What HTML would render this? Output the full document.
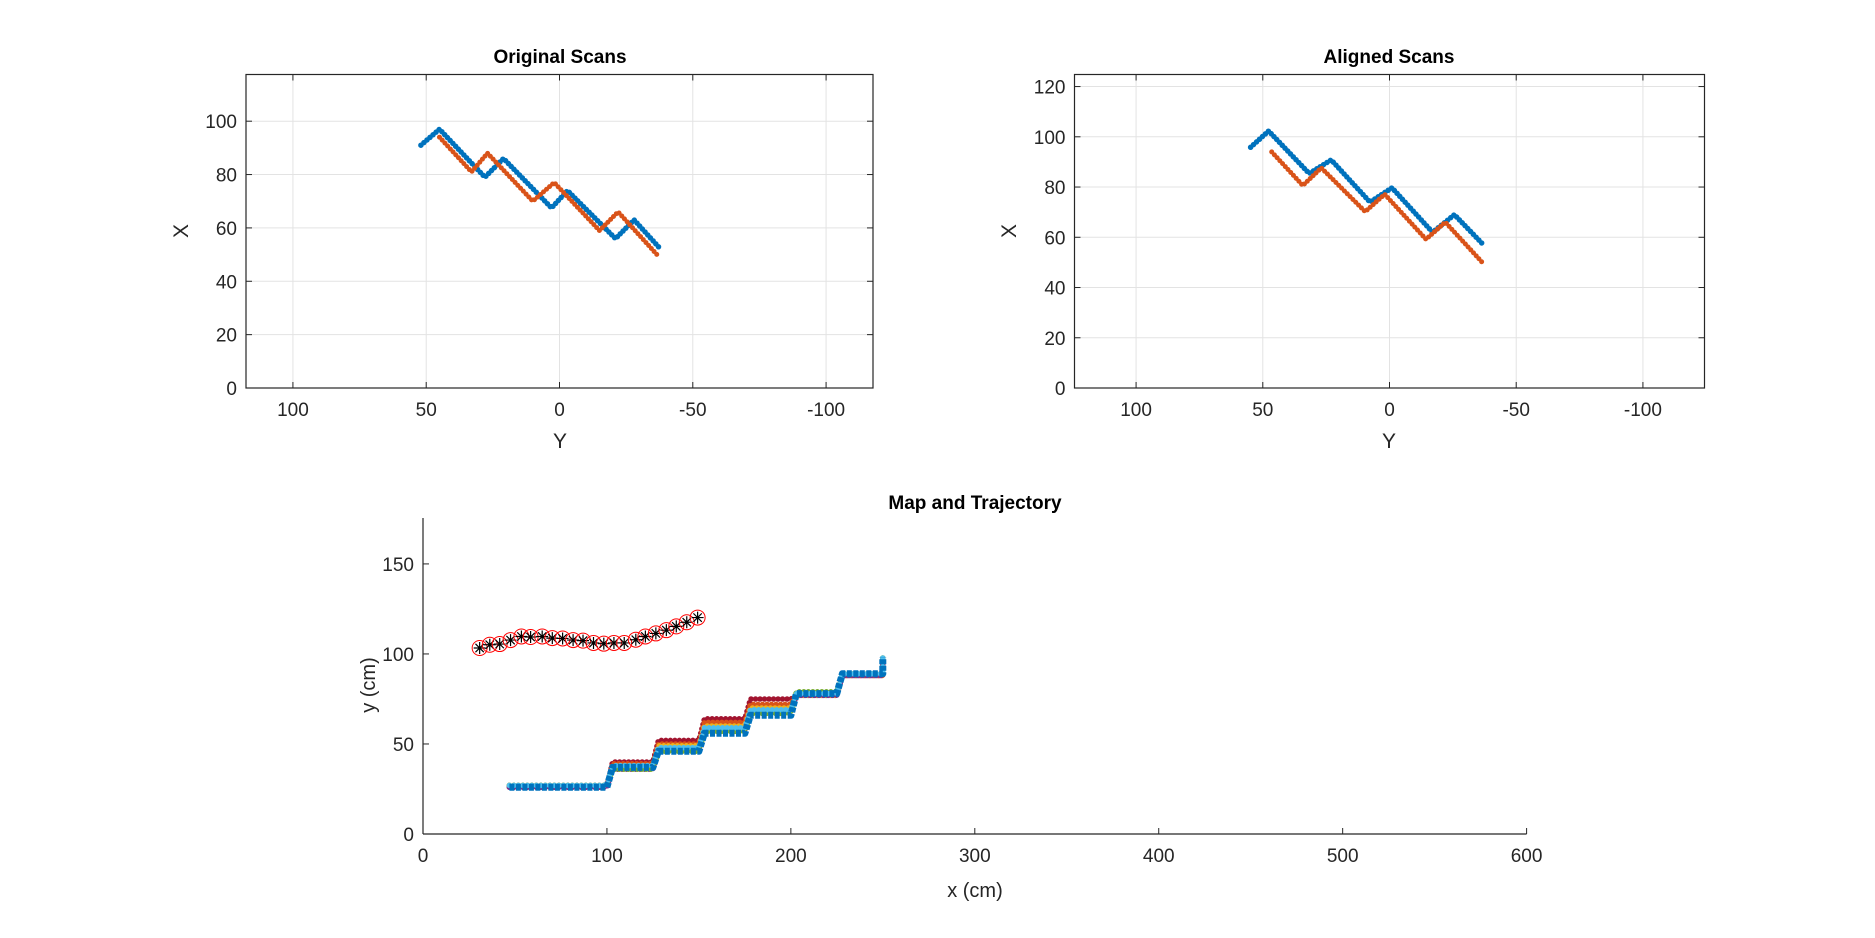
<!DOCTYPE html>
<html><head><meta charset="utf-8">
<style>
html,body{margin:0;padding:0;background:#fff;}
svg{display:block;font-family:"Liberation Sans",Arial,sans-serif;}
</style></head>
<body>
<svg id="chart" width="1875" height="938" viewBox="0 0 1875 938" xmlns="http://www.w3.org/2000/svg">
<rect width="1875" height="938" fill="#fff"/>
</svg>
<script>
// ---------- Data ----------
const scanTicksX = [100, 50, 0, -50, -100];
const scanTickLabelsX = ["100", "50", "0", "-50", "-100"];
const origTicksY = [0, 20, 40, 60, 80, 100];
const alignTicksY = [0, 20, 40, 60, 80, 100, 120];

// Original scans (Y, X) polyline vertices
const origBlueY = [52, 45, 28, 21, 3, -3, -21, -28, -38];
const origBlueX = [91, 97, 79, 86, 67.5, 74, 56, 63, 52];
const origRedY = [45, 33, 27, 10, 2, -15, -22, -37];
const origRedX = [94, 81, 88, 70, 77, 59, 66, 49.5];

// Aligned scans
const alignBlueY = [54.8, 47.7, 31.7, 23, 7.7, -1, -17, -25.6, -36.5];
const alignBlueX = [95.8, 102.3, 85.4, 90.8, 74, 79.7, 62, 69, 57.6];
const alignRedY = [46.5, 34.2, 26.9, 9.6, 1.9, -14.4, -22, -36.9];
const alignRedX = [94, 80.6, 87.6, 70.2, 77.1, 59.2, 66, 49.7];

// Map
const mapTicksX = [0, 100, 200, 300, 400, 500, 600];
const mapTicksY = [0, 50, 100, 150];
const trajX = [30.8,36.3,41.7,47.6,53.5,58.5,64.8,70.3,75.9,81.6,87.0,92.7,98.3,103.8,109.4,115.7,120.9,126.6,132.3,137.7,143.4,149.3];
const trajY = [103.3,105.1,105.5,107.7,109.7,109.4,109.7,108.8,108.6,107.7,107.4,106.1,105.7,106.1,106.1,107.9,109.7,111.4,113.2,115.3,117.6,120.2];
const stepEdges = [47, 100, 125, 150, 175, 200, 225, 250];
const stepDarkRed = [26, 40, 52, 64, 75, 77, 88];
const stepOrange = [27, 39, 50, 62, 72, 78, 88];
const stepYellow = [27, 38, 49, 60, 70, 77, 89];
const stepPurple = [26, 36, 47, 58, 68, 77, 88];
const stepGreen = [27, 36, 46, 57, 67, 79, 89];
const stepLightBlue = [27, 38, 48, 59, 69, 78, 89];
const stepBlue = [26, 37, 46, 56, 66, 78, 89];
const stepEndTop = 98;

// ---------- Helpers ----------
const svg = document.getElementById('chart');
const NS = 'http://www.w3.org/2000/svg';
function mk(tag, attrs, parent){
  const e = document.createElementNS(NS, tag);
  for (const k in attrs) e.setAttribute(k, attrs[k]);
  (parent||svg).appendChild(e);
  return e;
}
function lin(d0,d1,r0,r1){ return v => r0 + (v-d0)/(d1-d0)*(r1-r0); }

function axesFrame(g, L, T, R, B, xs, ys, xt, xtl, yt, grid, box){
  if (grid){
    xt.forEach(v=>{ const l=mk('line',{x1:xs(v),x2:xs(v),y1:T,y2:B,stroke:'#e3e3e3','stroke-width':1},g);
        });
    yt.forEach(v=>{ const l=mk('line',{x1:L,x2:R,y1:ys(v),y2:ys(v),stroke:'#e3e3e3','stroke-width':1},g);
        });
  }
  xt.forEach((v,i)=>{
    const x = xs(v);
    const t1 = mk('line',{x1:x,x2:x,y1:B,y2:B-6,stroke:'#262626','stroke-width':1},g);
     
    if (box){ mk('line',{x1:x,x2:x,y1:T,y2:T+6,stroke:'#262626','stroke-width':1},g); }
    const t = mk('text',{x:x,y:B+28,'text-anchor':'middle','font-size':19,fill:'#262626'},g);
    t.textContent = xtl ? xtl[i] : String(v);
     
  });
  yt.forEach(v=>{
    const y = ys(v);
    const t1 = mk('line',{x1:L,x2:L+6,y1:y,y2:y,stroke:'#262626','stroke-width':1},g);
     
    if (box){ mk('line',{x1:R,x2:R-6,y1:y,y2:y,stroke:'#262626','stroke-width':1},g); }
    const t = mk('text',{x:L-9,y:y+7,'text-anchor':'end','font-size':19,fill:'#262626'},g);
    t.textContent = String(v);
     
  });
  if (box){
    const r = mk('rect',{x:L,y:T,width:R-L,height:B-T,fill:'none',stroke:'#262626','stroke-width':1.2},g);
     
  } else {
    mk('line',{x1:L,x2:R,y1:B,y2:B,stroke:'#262626','stroke-width':1.2},g);
    mk('line',{x1:L,x2:L,y1:T,y2:B,stroke:'#262626','stroke-width':1.2},g);
  }
}
function dotted(g, xs, ys, X, Y, color, w, gap){
  const d = X.map((v,i)=>(i?'L':'M')+xs(v).toFixed(1)+' '+ys(Y[i]).toFixed(1)).join(' ');
  return mk('path',{d:d,fill:'none',stroke:color,'stroke-width':w,'stroke-linecap':'round','stroke-linejoin':'round','stroke-dasharray':'0 '+gap},g);
}
function label(g, txt, x, y, size, bold, name, rot){
  const t = mk('text',{x:x,y:y,'text-anchor':'middle','font-size':size,fill:bold?'#000':'#262626','font-weight':bold?'bold':'normal'},g);
  if (rot) t.setAttribute('transform','rotate(-90 '+x+' '+y+')');
  t.textContent = txt;
  
  
  return t;
}

// ---------- Plot 1: Original Scans ----------
(function(){
  const g = mk('g',{});
  
  
  const L=246,R=873,T=74.5,B=388;
  const xs = lin(117.6,-117.6,L,R), ys = lin(0,117.5,B,T);
  axesFrame(g,L,T,R,B,xs,ys,scanTicksX,scanTickLabelsX,origTicksY,true,true);
  const b = dotted(g,xs,ys,origBlueY,origBlueX,'#0072BD',5.5,4);
   
  const r = dotted(g,xs,ys,origRedY,origRedX,'#D95319',5,4);
   
  label(g,'Original Scans',560,63,19,true,'original-scans-title');
  label(g,'Y',560,448,21,false,'x-axis-title');
  label(g,'X',188,231,21,false,'y-axis-title',true);
})();

// ---------- Plot 2: Aligned Scans ----------
(function(){
  const g = mk('g',{});
  
  
  const L=1074.5,R=1704.5,T=74.5,B=388;
  const xs = lin(124.3,-124.3,L,R), ys = lin(0,124.8,B,T);
  axesFrame(g,L,T,R,B,xs,ys,scanTicksX,scanTickLabelsX,alignTicksY,true,true);
  const b = dotted(g,xs,ys,alignBlueY,alignBlueX,'#0072BD',5.5,4);
   
  const r = dotted(g,xs,ys,alignRedY,alignRedX,'#D95319',5,4);
   
  label(g,'Aligned Scans',1389,63,19,true,'aligned-scans-title');
  label(g,'Y',1389,448,21,false,'x-axis-title');
  label(g,'X',1016,231,21,false,'y-axis-title',true);
})();

// ---------- Plot 3: Map and Trajectory ----------
(function(){
  const g = mk('g',{});
  
  
  const L=423,R=1526.6,T=518,B=834;
  const xs = lin(0,600,L,R), ys = lin(0,175.5,B,T);
  axesFrame(g,L,T,R,B,xs,ys,mapTicksX,null,mapTicksY,false,false);
  function stairs(levels){
    const X=[],Y=[];
    for(let i=0;i<levels.length;i++){
      X.push(stepEdges[i] + (i ? 3 : 0)); Y.push(levels[i]);
      X.push(stepEdges[i+1]); Y.push(levels[i]);
    }
    X.push(stepEdges[stepEdges.length-1]); Y.push(stepEndTop);
    return [X,Y];
  }
  const series = [
    [stepDarkRed,'#A2142F','map-scan-darkred'],
    [stepOrange,'#D95319','map-scan-orange'],
    [stepYellow,'#EDB120','map-scan-yellow'],
    [stepPurple,'#7E2F8E','map-scan-purple'],
    [stepGreen,'#77AC30','map-scan-green'],
    [stepLightBlue,'#4DBEEE','map-scan-lightblue']
  ];
  series.forEach(s=>{
    const [X,Y] = stairs(s[0]);
    const p = dotted(g,xs,ys,X,Y,s[1],5.5,4.5);
    
    
  });
  const [BX,BY] = stairs(stepBlue);
  const bl = mk('path',{d:BX.map((v,i)=>(i?'L':'M')+xs(v).toFixed(1)+' '+ys(BY[i]).toFixed(1)).join(' '),fill:'none',stroke:'#0072BD','stroke-width':7,'stroke-linejoin':'round','stroke-dasharray':'5 1.5'},g);
  
  
  // trajectory
  trajX.forEach((v,i)=>{
    const cx = xs(v), cy = ys(trajY[i]);
    const c = mk('circle',{cx:cx,cy:cy,r:7.5,fill:'none',stroke:'#ff0000','stroke-width':1},g);
    
    
    const s = mk('path',{d:`M${cx-6} ${cy}H${cx+6}M${cx} ${cy-6}V${cy+6}M${cx-4.2} ${cy-4.2}L${cx+4.2} ${cy+4.2}M${cx-4.2} ${cy+4.2}L${cx+4.2} ${cy-4.2}`,stroke:'#000','stroke-width':1.2},g);
    
    
  });
  label(g,'Map and Trajectory',975,509,19,true,'map-title');
  label(g,'x (cm)',975,897,20,false,'x-axis-title');
  label(g,'y (cm)',375,685,20,false,'y-axis-title',true);
})();
</script>
</body></html>
